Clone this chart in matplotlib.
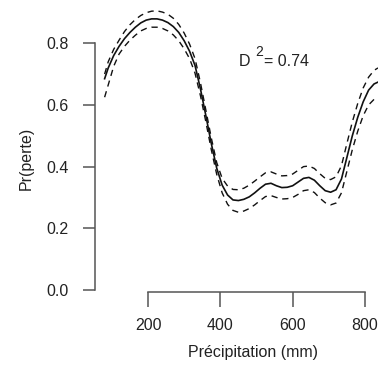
import matplotlib
matplotlib.use("Agg")
from matplotlib import pyplot as plt

plt.rcParams['font.family'] = ['Liberation Sans', 'DejaVu Sans']

# precipitation (mm) and fitted probability with its band
precip = [80, 90, 105, 120, 135, 150, 165, 180, 195, 210, 225, 240, 255, 270, 285, 300,
          315, 330, 345, 360, 375, 390, 405, 420, 435, 450, 465, 480, 495, 510, 525, 540,
          555, 570, 585, 600, 615, 630, 645, 660, 675, 690, 705, 720, 735, 750, 765, 780,
          795, 810, 825, 836]
fit = [0.685, 0.72, 0.76, 0.79, 0.815, 0.835, 0.852, 0.866, 0.875, 0.879, 0.879, 0.875,
       0.867, 0.854, 0.835, 0.808, 0.774, 0.728, 0.652, 0.565, 0.475, 0.395, 0.34, 0.308,
       0.292, 0.29, 0.294, 0.302, 0.315, 0.33, 0.343, 0.346, 0.338, 0.332, 0.333, 0.338,
       0.35, 0.362, 0.365, 0.356, 0.338, 0.322, 0.317, 0.325, 0.36, 0.43, 0.5, 0.56,
       0.61, 0.648, 0.668, 0.674]
upper = [0.70, 0.74, 0.78, 0.81, 0.838, 0.86, 0.877, 0.89, 0.899, 0.904, 0.905, 0.901,
         0.894, 0.881, 0.861, 0.833, 0.797, 0.75, 0.672, 0.583, 0.493, 0.413, 0.362, 0.337,
         0.326, 0.325, 0.33, 0.34, 0.353, 0.367, 0.38, 0.383, 0.376, 0.37, 0.371, 0.376,
         0.388, 0.4, 0.402, 0.394, 0.377, 0.362, 0.358, 0.367, 0.403, 0.475, 0.545, 0.605,
         0.655, 0.69, 0.712, 0.72]
lower = [0.625, 0.665, 0.725, 0.765, 0.79, 0.81, 0.826, 0.84, 0.848, 0.852, 0.852, 0.848,
         0.84, 0.827, 0.808, 0.782, 0.75, 0.703, 0.63, 0.545, 0.455, 0.375, 0.315, 0.278,
         0.258, 0.252, 0.256, 0.264, 0.276, 0.29, 0.303, 0.306, 0.3, 0.295, 0.296, 0.3,
         0.31, 0.322, 0.325, 0.316, 0.298, 0.283, 0.276, 0.282, 0.315, 0.385, 0.455, 0.515,
         0.565, 0.6, 0.618, 0.625]

xticks = [200, 400, 600, 800]
yticks = [0.0, 0.2, 0.4, 0.6, 0.8]

W, H = 378, 367
fig = plt.figure(figsize=(W / 100, H / 100), dpi=100)
# axes box placed in pixel units
left, right, bottom, top = 95, 378, 292, 5
ax = fig.add_axes([left / W, 1 - bottom / H, (right - left) / W, (bottom - top) / H])

ax.plot(precip, fit, color='#111111', lw=1.2)
ax.plot(precip, upper, color='#111111', lw=1.0, dashes=(4.5, 3.5))
ax.plot(precip, lower, color='#111111', lw=1.0, dashes=(4.5, 3.5))

ax.set_xlim(53.4, 836)
ax.set_ylim(-0.0065, 0.924)

for s in ['top', 'right']:
    ax.spines[s].set_visible(False)
axis_col = '#555555'
ax.spines['left'].set_bounds(0, 0.8)
ax.spines['bottom'].set_bounds(200, 800)
for s in ['left', 'bottom']:
    ax.spines[s].set_color(axis_col)
    ax.spines[s].set_linewidth(1.1)

ax.set_xticks(xticks)
ax.set_xticklabels([str(t) for t in xticks])
ax.set_yticks(yticks)
ax.set_yticklabels(['%.1f' % t for t in yticks])
ax.tick_params(axis='y', length=9, width=1.1, color=axis_col, pad=10,
               labelsize=11.5, labelcolor='#222222')
ax.tick_params(axis='x', length=10.5, width=1.1, color=axis_col, pad=8,
               labelsize=11.5, labelcolor='#222222')

fig.text(253 / W, 1 - 353 / H, 'Précipitation (mm)', ha='center', va='center',
         fontsize=11.5, color='#222222')
fig.text(26 / W, 1 - 158 / H, 'Pr(perte)', ha='center', va='center',
         rotation=90, fontsize=11.5, color='#222222')
# D^2 = 0.74, R expression style
fig.text(239 / W, 1 - 61 / H, 'D', ha='left', va='center', fontsize=11.5, color='#222222')
fig.text(255 / W, 1 - 52 / H, '2', ha='left', va='center', fontsize=10, color='#222222')
fig.text(264 / W, 1 - 61 / H, '= 0.74', ha='left', va='center', fontsize=11.5, color='#222222')

fig.savefig('out.png', dpi=100)
